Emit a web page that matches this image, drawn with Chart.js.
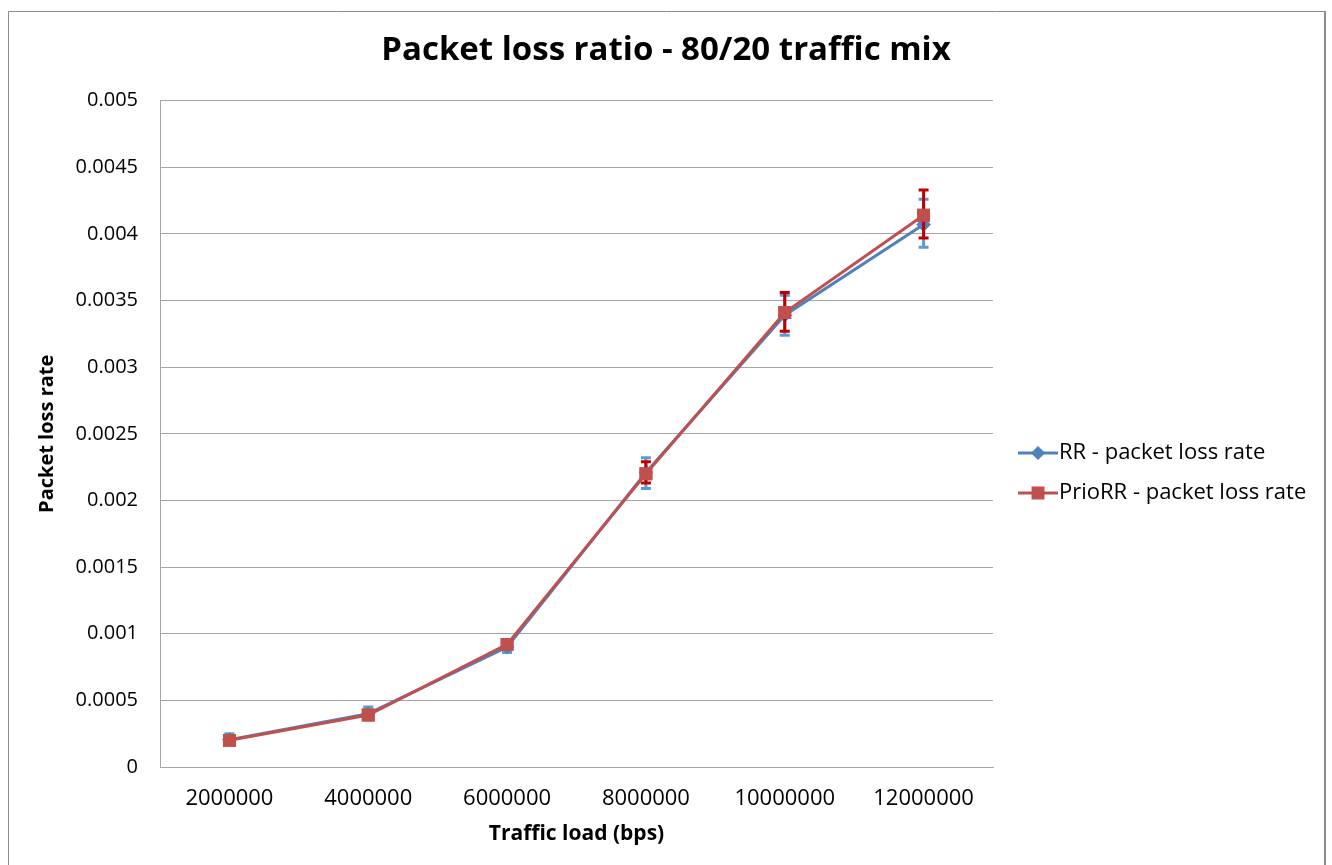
<!DOCTYPE html>
<html>
<head>
<meta charset="utf-8">
<script src="https://cdn.jsdelivr.net/npm/chart.js@4.4.1/dist/chart.umd.min.js"></script>
<style>
  html, body { margin: 0; padding: 0; background: #fff; }
  #wrap { width: 1332px; height: 865px; }
</style>
</head>
<body>
<div id="wrap"><canvas id="lossChart" width="1332" height="865"></canvas></div>
<script>
// ---------- DATA ----------
const loads = ["2000000", "4000000", "6000000", "8000000", "10000000", "12000000"];

const rrLoss   = [0.000205, 0.0004, 0.0009, 0.00221, 0.00339, 0.00407];
const rrLow    = [0.00019, 0.00037, 0.00086, 0.00209, 0.00324, 0.0039];
const rrHigh   = [0.00025, 0.00045, 0.00094, 0.00232, 0.00354, 0.00426];

const prioLoss = [0.0002, 0.00039, 0.00092, 0.0022, 0.00341, 0.00414];
const prioLow  = [0.00019, 0.00037, 0.00089, 0.00213, 0.00327, 0.00397];
const prioHigh = [0.00021, 0.00041, 0.00095, 0.00229, 0.00356, 0.00433];

const yTicks = [0, 0.0005, 0.001, 0.0015, 0.002, 0.0025, 0.003, 0.0035, 0.004, 0.0045, 0.005];

const FONT = "'Open Sans', 'DejaVu Sans', sans-serif";

// ---------- PLUGINS ----------
// outer frame around the whole chart
const framePlugin = {
  id: "frame",
  beforeDraw(chart) {
    const { ctx, width, height } = chart;
    ctx.save();
    ctx.fillStyle = "#fff";
    ctx.fillRect(0, 0, width, height);
    ctx.strokeStyle = "#8c8c8c";
    ctx.lineWidth = 1;
    ctx.beginPath();
    ctx.moveTo(8.5, height + 2);
    ctx.lineTo(8.5, 11.5);
    ctx.lineTo(width - 7.5, 11.5);
    ctx.stroke();
    ctx.lineWidth = 2;
    ctx.beginPath();
    ctx.moveTo(width - 7, 11);
    ctx.lineTo(width - 7, height + 2);
    ctx.stroke();
    ctx.restore();
  }
};

// vertical error bars, drawn right after each dataset so the top series covers them
const errorBarPlugin = {
  id: "errorBars",
  afterDatasetDraw(chart, args) {
    const ds = chart.data.datasets[args.index];
    if (!ds.errLow) return;
    const { ctx, scales: { x, y } } = chart;
    ctx.save();
    ctx.strokeStyle = ds.errColor;
    ctx.lineWidth = ds.errWidth;
    const cap = 5;
    ds.data.forEach((v, i) => {
      const px = x.getPixelForValue(i);
      const top = y.getPixelForValue(ds.errHigh[i]);
      const bot = y.getPixelForValue(ds.errLow[i]);
      ctx.beginPath();
      ctx.moveTo(px, top);
      ctx.lineTo(px, bot);
      ctx.moveTo(px - cap, top);
      ctx.lineTo(px + cap, top);
      ctx.moveTo(px - cap, bot);
      ctx.lineTo(px + cap, bot);
      ctx.stroke();
    });
    // redraw the marker on top of its own bars
    args.meta.data.forEach(pt => pt.draw(ctx, chart.chartArea));
    ctx.restore();
  }
};

// legend to the right of the plot: line sample + marker + label
const sideLegendPlugin = {
  id: "sideLegend",
  afterDraw(chart) {
    const { ctx, chartArea } = chart;
    const x0 = chartArea.right + 25;
    const rows = [453, 493];
    ctx.save();
    chart.data.datasets.forEach((ds, i) => {
      const yy = rows[i];
      ctx.strokeStyle = ds.borderColor;
      ctx.lineWidth = 3;
      ctx.beginPath();
      ctx.moveTo(x0, yy);
      ctx.lineTo(x0 + 40, yy);
      ctx.stroke();
      Chart.helpers.drawPoint(ctx, {
        pointStyle: ds.pointStyle,
        radius: ds.pointStyle === "rect" ? 7 : 5,
        rotation: 0,
        borderWidth: 1
      }, x0 + 20, yy);
      ctx.fillStyle = ds.borderColor;
      ctx.fill();
      ctx.fillStyle = "#000";
      ctx.font = "22px " + FONT;
      ctx.textAlign = "left";
      ctx.textBaseline = "middle";
      ctx.fillText(ds.label, x0 + 41, yy);
    });
    ctx.restore();
  }
};

// ---------- CHART ----------
const chart = new Chart(document.getElementById("lossChart"), {
  type: "line",
  data: {
    labels: loads,
    datasets: [
      {
        label: "RR - packet loss rate",
        data: rrLoss,
        errLow: rrLow,
        errHigh: rrHigh,
        errColor: "#5b9bd5",
        errWidth: 3,
        borderColor: "#4f81bd",
        backgroundColor: "#4f81bd",
        borderWidth: 3,
        pointStyle: "rectRot",
        pointRadius: 5,
        order: 2
      },
      {
        label: "PrioRR - packet loss rate",
        data: prioLoss,
        errLow: prioLow,
        errHigh: prioHigh,
        errColor: "#c00000",
        errWidth: 3,
        borderColor: "#c0504d",
        backgroundColor: "#c0504d",
        borderWidth: 3,
        pointStyle: "rect",
        pointRadius: 7,
        order: 1
      }
    ]
  },
  options: {
    responsive: false,
    animation: false,
    layout: { padding: { left: 8, top: 11, right: 8, bottom: 0 } },
    plugins: {
      legend: { display: false },
      tooltip: { enabled: false },
      title: {
        display: true,
        text: "Packet loss ratio - 80/20 traffic mix",
        color: "#000",
        font: { family: FONT, size: 33, weight: "bold" },
        padding: { top: 20, bottom: 30 }
      }
    },
    scales: {
      x: {
        offset: true,
        grid: { display: false, drawTicks: false },
        border: { display: true, color: "#a6a6a6", width: 1 },
        ticks: { color: "#000", font: { family: FONT, size: 22 }, padding: 19, maxRotation: 0 },
        title: {
          display: true,
          text: "Traffic load (bps)",
          color: "#000",
          font: { family: FONT, size: 21, weight: "bold" },
          padding: { top: 0, bottom: 18 }
        },
        afterFit(scale) { scale.height = 98; }
      },
      y: {
        min: 0,
        max: 0.005,
        afterBuildTicks(scale) { scale.ticks = yTicks.map(v => ({ value: v })); },
        grid: { color: "#a6a6a6", lineWidth: 1, drawTicks: false },
        border: { display: true, color: "#a6a6a6", width: 1 },
        ticks: {
          color: "#000",
          font: { family: FONT, size: 20 },
          padding: 22,
          callback: v => String(+v.toFixed(4))
        },
        title: {
          display: true,
          text: "Packet loss rate",
          color: "#000",
          font: { family: FONT, size: 20, weight: "bold" },
          padding: { top: 27, bottom: 0 }
        },
        afterFit(scale) { scale.width = 152; }
      },
      // empty right-hand axis that reserves room for the legend
      legendSpace: {
        position: "right",
        min: 0,
        max: 1,
        grid: { display: false, drawTicks: false },
        border: { display: false },
        ticks: { display: false },
        afterFit(scale) { scale.width = 331; }
      }
    }
  },
  plugins: [framePlugin, errorBarPlugin, sideLegendPlugin]
});
</script>
</body>
</html>
